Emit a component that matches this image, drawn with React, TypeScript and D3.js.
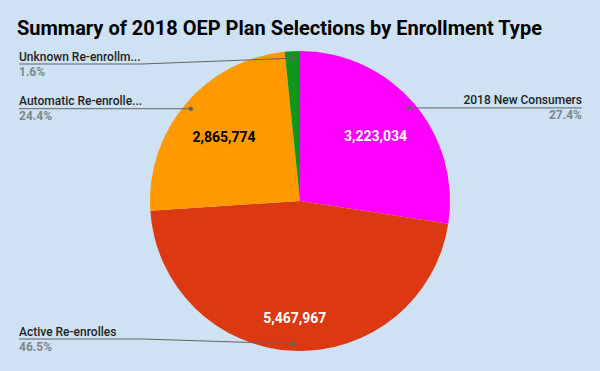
import React from "react";
import * as d3 from "d3";

const categories = [
  "2018 New Consumers",
  "Active Re-enrolles",
  "Automatic Re-enrolle...",
  "Unknown Re-enrollm...",
];
const values = [3223034, 5467967, 2865774, 192000];
const colors = ["#ff00ff", "#dc3912", "#ff9900", "#109618"];
const valueLabelColors = ["#ffffff", "#ffffff", "#000000", "#ffffff"];
const showValueLabel = [true, true, true, false];
const title = "Summary of 2018 OEP Plan Selections by Enrollment Type";

const W = 600;
const H = 371;
const CX = 300;
const CY = 201;
const R = 150;
const DOT_R = R * 0.953;
const LABEL_FONT = "Roboto, Arial, sans-serif";

let _ctx: CanvasRenderingContext2D | null = null;
function measure(text: string, font: string): number {
  if (!_ctx) _ctx = document.createElement("canvas").getContext("2d");
  if (!_ctx) return text.length * 7;
  _ctx.font = font;
  return _ctx.measureText(text).width;
}

export default function App() {
  const total = d3.sum(values);
  const pie = d3
    .pie<number>()
    .sort(null)
    .value((d) => d)
    .startAngle(0)
    .endAngle(2 * Math.PI);
  const arcs = pie(values);
  const arcGen = d3.arc<d3.PieArcDatum<number>>().innerRadius(0).outerRadius(R);
  const fmt = d3.format(",");
  const pct = d3.format(".1%");

  const valueLabels = arcs.map((a, i) => {
    const mid = (a.startAngle + a.endAngle) / 2;
    const ux = Math.sin(mid);
    const uy = -Math.cos(mid);
    const txt = fmt(values[i]);
    const w = measure(txt, `bold 14px ${LABEL_FONT}`);
    const h = 10.5;
    const ax = Math.sign(ux) * (w / 2);
    const ay = Math.sign(uy) * (h / 2);
    const D = R * 0.853;
    const ua = ux * ax + uy * ay;
    const r = -ua + Math.sqrt(ua * ua - (ax * ax + ay * ay) + D * D);
    return { x: CX + r * ux, y: CY + r * uy, txt, i };
  });

  const minY = 64;
  const maxY = 339;
  const leftX = 19;
  const rightX = 582;
  const colW = 123;
  const outside = arcs.map((a, i) => {
    const mid = (a.startAngle + a.endAngle) / 2;
    const dx = CX + DOT_R * Math.sin(mid);
    const dy = CY - DOT_R * Math.cos(mid);
    const right = Math.sin(mid) > 0;
    const ly = Math.max(minY, Math.min(maxY, dy));
    return { i, dx, dy, right, ly };
  });

  return (
    <svg
      width={W}
      height={H}
      style={{ position: "absolute", left: 0, top: 0, display: "block" }}
      xmlns="http://www.w3.org/2000/svg"
    >
      <rect x={0} y={0} width={W} height={H} fill="#cfe2f3" />
      <text
        x={17}
        y={34.5}
        fontFamily={LABEL_FONT}
        fontWeight="bold"
        fontSize={20}
        fill="#000000"
      >
        {title}
      </text>
      <g transform={`translate(${CX},${CY})`}>
        {arcs.map((a, i) => (
          <path key={i} d={arcGen(a) || ""} fill={colors[i]} />
        ))}
      </g>
      {valueLabels
        .filter((v) => showValueLabel[v.i])
        .map((v) => (
          <text
            key={v.i}
            x={v.x}
            y={v.y + 5}
            textAnchor="middle"
            fontFamily={LABEL_FONT}
            fontWeight="bold"
            fontSize={14}
            fill={valueLabelColors[v.i]}
          >
            {v.txt}
          </text>
        ))}
      {outside.map((o) => {
        const pts: [number, number][] = o.right
          ? [
              [rightX, o.ly],
              [rightX - colW, o.ly],
              [o.dx, o.dy],
            ]
          : [
              [leftX, o.ly],
              [leftX + colW, o.ly],
              [o.dx, o.dy],
            ];
        const line = d3.line()(pts) || "";
        const tx = o.right ? rightX : leftX;
        const anchor = o.right ? "end" : "start";
        return (
          <g key={o.i}>
            <path d={line} fill="none" stroke="#636363" strokeWidth={1} />
            <circle cx={o.dx} cy={o.dy} r={2.2} fill="#636363" />
            <text
              x={tx}
              y={o.ly - 3.5}
              textAnchor={anchor}
              fontFamily={LABEL_FONT}
              fontSize={12}
              fontWeight={500}
              fill="#1f1f1f"
            >
              {categories[o.i]}
            </text>
            <text
              x={tx}
              y={o.ly + 11.5}
              textAnchor={anchor}
              fontFamily={LABEL_FONT}
              fontSize={12}
              fontWeight="bold"
              fill="#80868b"
            >
              {pct(values[o.i] / total)}
            </text>
          </g>
        );
      })}
    </svg>
  );
}
